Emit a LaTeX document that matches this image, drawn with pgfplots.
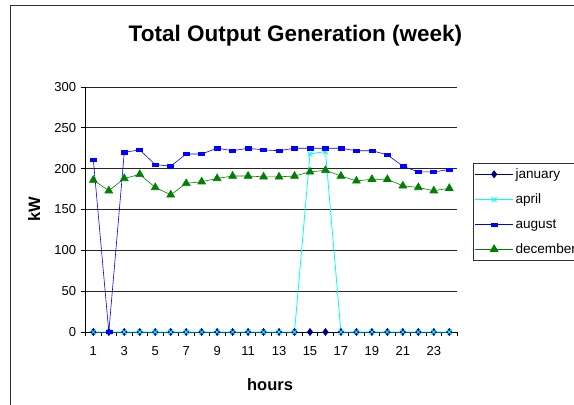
\documentclass[border=0pt]{standalone}
\usepackage{fontspec}
\setmainfont{Liberation Sans}
\usepackage{pgfplots}
\pgfplotsset{compat=1.18}
\definecolor{jan}{HTML}{000080}
\definecolor{apr}{HTML}{00FFFF}
\definecolor{aug}{HTML}{0000FF}
\definecolor{dec}{HTML}{008000}
\begin{document}
\begin{tikzpicture}[x=1bp,y=1bp]
\path[use as bounding box] (0,0) rectangle (574,404);
\clip (0,0) rectangle (574,404);
\draw[black!80, line width=0.8bp] (10,399) rectangle (700,-50);
\node[anchor=base, font=\fontsize{22.5bp}{26bp}\selectfont\bfseries] at (295.4,363) {Total Output Generation (week)};
\node[anchor=base, font=\fontsize{16.5bp}{19bp}\selectfont\bfseries] at (270,13.3) {hours};
\node[anchor=base, rotate=90, font=\fontsize{16.5bp}{19bp}\selectfont\bfseries] at (40,194.5) {kW};
\begin{axis}[
  at={(85.6bp,72bp)}, anchor=south west,
  scale only axis, width=371.4bp, height=245bp,
  xmin=0.5, xmax=24.5, ymin=0, ymax=300,
  axis lines=left, axis line style={-, black, line width=0.8bp},
  xtick={1,3,...,23}, major x tick style={draw=none},
  minor xtick={0.5,1.5,...,24.5},
  minor tick length=4bp,
  ytick={0,50,...,300}, major tick length=5bp,
  tick align=outside, tick style={black, line width=0.7bp},
  ymajorgrids, grid style={black!85, line width=0.8bp},
  /pgf/number format/assume math mode=true,
  tick label style={font=\fontsize{13bp}{15bp}\selectfont},
  xticklabel style={yshift=-6bp},
  yticklabel style={xshift=-1bp},
  clip=false,
  legend style={at={(1.0439,0.691)}, anchor=north west, draw=black!80, line width=0.8bp,
    font=\fontsize{13.6bp}{16bp}\selectfont, inner xsep=1bp, inner ysep=3.5bp, row sep=10bp,
    cells={anchor=west}},
  legend image code/.code={\draw[mark repeat=2,mark phase=2,#1] plot coordinates {(0bp,0bp) (19bp,0bp) (38bp,0bp)};},
]
\addplot[color=jan, line width=0.8bp, mark=diamond*, mark size=3.4bp, mark options={solid}] coordinates {
(1,0)(2,0)(3,0)(4,0)(5,0)(6,0)(7,0)(8,0)(9,0)(10,0)(11,0)(12,0)(13,0)(14,0)(15,0)(16,0)(17,0)(18,0)(19,0)(20,0)(21,0)(22,0)(23,0)(24,0)};
\addlegendentry{january}
\addplot[color=apr, line width=0.8bp, mark=x, mark size=3.5bp] coordinates {
(1,0)(2,0)(3,0)(4,0)(5,0)(6,0)(7,0)(8,0)(9,0)(10,0)(11,0)(12,0)(13,0)(14,0)(15,218)(16,221)(17,0)(18,0)(19,0)(20,0)(21,0)(22,0)(23,0)(24,0)};
\addlegendentry{april}
\addplot[color=aug, line width=0.6bp, mark=square*, mark size=2bp, mark options={xscale=1.5,yscale=0.8}] coordinates {
(1,211)(2,0)(3,220)(4,223)(5,205)(6,203)(7,218)(8,218)(9,225)(10,222)(11,225)(12,223)(13,222)(14,225)(15,225)(16,225)(17,225)(18,222)(19,222)(20,217)(21,203)(22,196)(23,196)(24,199)};
\addlegendentry{august}
\addplot[color=dec, line width=0.6bp, mark=triangle*, mark size=4.5bp] coordinates {
(1,186)(2,173)(3,188)(4,193)(5,177)(6,168)(7,182)(8,184)(9,188)(10,191)(11,191)(12,190)(13,190)(14,191)(15,196)(16,198)(17,191)(18,185)(19,187)(20,187)(21,179)(22,177)(23,173)(24,176)};
\addlegendentry{december}
\end{axis}
\end{tikzpicture}
\end{document}
